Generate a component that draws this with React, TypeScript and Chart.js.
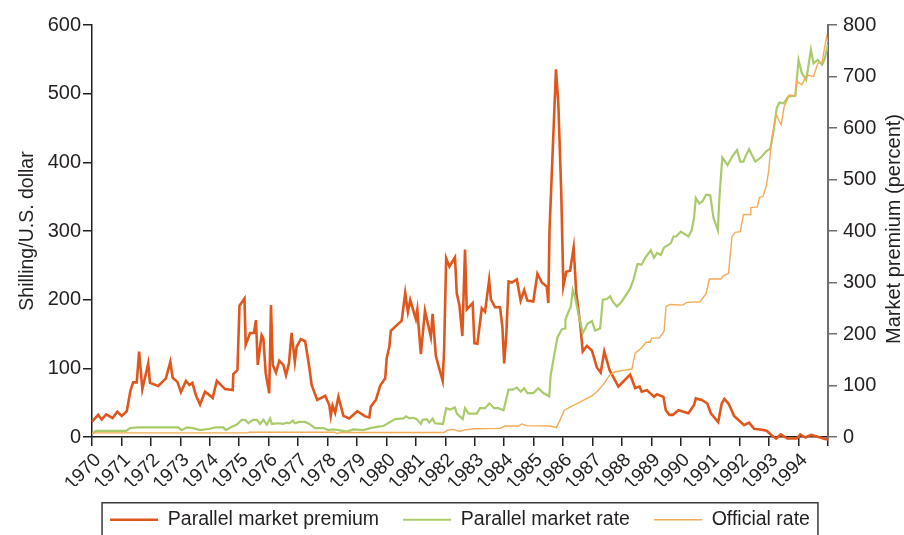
import React, { useEffect, useRef } from "react";
import { Chart, registerables } from "chart.js";

Chart.register(...registerables);

// ---- Data ----
const premiumYears = [
  1970.0, 1970.21, 1970.33, 1970.48, 1970.7, 1970.86, 1971.01, 1971.18, 1971.31, 1971.4,
  1971.52, 1971.6, 1971.71, 1971.91, 1971.97, 1972.25, 1972.51, 1972.66, 1972.74, 1972.9,
  1973.02, 1973.19, 1973.31, 1973.41, 1973.53, 1973.67, 1973.84, 1974.1, 1974.24, 1974.52,
  1974.78, 1974.8, 1974.94, 1975.01, 1975.18, 1975.22, 1975.37, 1975.5, 1975.57, 1975.63,
  1975.76, 1975.82, 1975.9, 1976.02, 1976.08, 1976.14, 1976.25, 1976.36, 1976.5, 1976.59,
  1976.69, 1976.78, 1976.89, 1976.95, 1977.09, 1977.24, 1977.38, 1977.46, 1977.65, 1977.92,
  1978.06, 1978.11, 1978.17, 1978.26, 1978.37, 1978.54, 1978.74, 1979.01, 1979.28, 1979.42,
  1979.47, 1979.65, 1979.79, 1979.96, 1980.01, 1980.1, 1980.15, 1980.52, 1980.64, 1980.73,
  1980.81, 1981.0, 1981.05, 1981.17, 1981.31, 1981.51, 1981.57, 1981.68, 1981.91, 1981.96,
  1982.03, 1982.14, 1982.33, 1982.39, 1982.48, 1982.58, 1982.67, 1982.73, 1982.93, 1982.99,
  1983.09, 1983.24, 1983.35, 1983.49, 1983.55, 1983.69, 1983.86, 1983.94, 1984.0, 1984.07,
  1984.15, 1984.26, 1984.43, 1984.56, 1984.68, 1984.79, 1984.99, 1985.13, 1985.28, 1985.45,
  1985.5, 1985.54, 1985.76, 1985.84, 1985.94, 1986.01, 1986.11, 1986.24, 1986.36, 1986.45,
  1986.58, 1986.67, 1986.81, 1986.98, 1987.15, 1987.28, 1987.4, 1987.58, 1987.88, 1988.28,
  1988.45, 1988.6, 1988.67, 1988.85, 1989.09, 1989.19, 1989.41, 1989.49, 1989.61, 1989.73,
  1989.92, 1990.26, 1990.45, 1990.51, 1990.71, 1990.9, 1991.02, 1991.27, 1991.39, 1991.48,
  1991.62, 1991.81, 1991.96, 1992.15, 1992.32, 1992.49, 1992.75, 1992.92, 1993.09, 1993.24,
  1993.4, 1993.62, 1993.94, 1994.06, 1994.23, 1994.43, 1994.62, 1994.9, 1995.0,
];
const premiumValues = [
  30, 43, 34, 44, 37, 49, 41, 50, 91, 106,
  106, 166, 93, 143, 105, 99, 114, 146, 115, 107,
  87, 109, 101, 105, 81, 63, 88, 76, 109, 93,
  91, 122, 130, 255, 269, 179, 202, 202, 227, 140,
  198, 192, 124, 85, 256, 140, 125, 148, 140, 120,
  143, 202, 146, 175, 190, 186, 136, 101, 72, 80,
  62, 41, 61, 47, 78, 41, 36, 50, 40, 38,
  59, 73, 100, 114, 153, 175, 206, 226, 280, 243,
  266, 229, 247, 161, 245, 194, 239, 157, 109, 169,
  347, 331, 349, 279, 256, 196, 364, 248, 260, 182,
  181, 250, 243, 305, 267, 252, 252, 214, 143, 195,
  302, 300, 306, 265, 285, 265, 263, 317, 300, 292,
  260, 400, 714, 648, 473, 293, 321, 323, 368, 279,
  221, 166, 177, 168, 135, 125, 166, 130, 98, 121,
  95, 98, 88, 91, 78, 83, 78, 52, 43, 43,
  52, 46, 62, 75, 72, 65, 46, 29, 65, 74,
  65, 41, 33, 23, 28, 16, 14, 12, 3, -3,
  5, -3, -3, 5, -1, 4, 1, -4, -5,
];

const parallelYears = [
  1970.0, 1970.14, 1971.16, 1971.29, 1971.57, 1972.93, 1973.05, 1973.22, 1973.44, 1973.67,
  1974.01, 1974.18, 1974.46, 1974.55, 1974.75, 1974.92, 1975.09, 1975.2, 1975.31, 1975.46,
  1975.6, 1975.71, 1975.82, 1975.94, 1976.05, 1976.11, 1976.33, 1976.5, 1976.62, 1976.7,
  1976.82, 1976.89, 1977.04, 1977.24, 1977.38, 1977.58, 1977.86, 1978.03, 1978.2, 1978.37,
  1978.65, 1978.88, 1979.22, 1979.45, 1979.73, 1979.9, 1980.13, 1980.3, 1980.58, 1980.67,
  1980.78, 1980.92, 1981.03, 1981.17, 1981.23, 1981.37, 1981.46, 1981.57, 1981.65, 1981.92,
  1982.03, 1982.16, 1982.33, 1982.39, 1982.59, 1982.67, 1982.79, 1983.07, 1983.18, 1983.35,
  1983.5, 1983.66, 1983.8, 1983.98, 1984.15, 1984.29, 1984.43, 1984.56, 1984.68, 1984.79,
  1984.99, 1985.16, 1985.33, 1985.53, 1985.58, 1985.67, 1985.81, 1985.96, 1986.07, 1986.08,
  1986.22, 1986.26, 1986.33, 1986.41, 1986.52, 1986.67, 1986.83, 1986.98, 1987.09, 1987.26,
  1987.35, 1987.49, 1987.6, 1987.69, 1987.83, 1987.99, 1988.28, 1988.39, 1988.53, 1988.67,
  1988.79, 1988.98, 1989.09, 1989.19, 1989.32, 1989.43, 1989.66, 1989.75, 1989.84, 1990.0,
  1990.26, 1990.37, 1990.45, 1990.51, 1990.63, 1990.75, 1990.86, 1991.0, 1991.11, 1991.26,
  1991.31, 1991.41, 1991.59, 1991.74, 1991.91, 1992.02, 1992.13, 1992.19, 1992.32, 1992.53,
  1992.72, 1992.9, 1993.04, 1993.13, 1993.26, 1993.35, 1993.49, 1993.66, 1993.89, 1994.0,
  1994.11, 1994.26, 1994.42, 1994.51, 1994.65, 1994.8, 1994.89, 1995.0,
];
const parallelValues = [
  5, 9, 9, 13, 14, 14, 10, 14, 13, 10,
  12, 14, 14, 10, 15, 18, 25, 25, 20, 25,
  25, 19, 25, 18, 27, 19, 20, 19, 21, 20,
  24, 20, 22, 22, 19, 13, 13, 10, 11, 10,
  8, 11, 10, 13, 15, 16, 22, 26, 27, 30,
  27, 28, 26, 19, 25, 26, 21, 27, 20, 19,
  42, 40, 43, 34, 26, 42, 34, 34, 42, 42,
  49, 42, 42, 39, 69, 69, 72, 66, 71, 64,
  64, 71, 64, 59, 90, 112, 145, 157, 158, 171,
  186, 189, 214, 203, 180, 151, 165, 169, 155, 158,
  200, 201, 205, 197, 190, 197, 216, 229, 252, 251,
  261, 272, 261, 268, 265, 276, 282, 292, 292, 299,
  292, 301, 319, 348, 340, 344, 353, 352, 319, 301,
  348, 407, 396, 408, 418, 401, 401, 408, 419, 401,
  407, 416, 420, 440, 479, 487, 486, 496, 497, 549,
  530, 520, 564, 544, 549, 542, 551, 572,
];

const officialYears = [
  1970.0, 1975.25, 1975.35, 1978.25, 1978.32, 1978.45, 1981.95, 1982.08, 1982.29, 1982.48,
  1982.62, 1982.96, 1983.86, 1984.03, 1984.48, 1984.6, 1984.75, 1985.56, 1985.77, 1985.9,
  1986.04, 1986.98, 1987.15, 1987.4, 1987.58, 1987.77, 1988.05, 1988.34, 1988.45, 1988.67,
  1988.82, 1988.96, 1989.01, 1989.27, 1989.43, 1989.5, 1989.64, 1990.07, 1990.2, 1990.66,
  1990.86, 1990.97, 1991.36, 1991.45, 1991.62, 1991.74, 1991.85, 1992.02, 1992.13, 1992.36,
  1992.38, 1992.6, 1992.67, 1992.79, 1992.9, 1992.98, 1993.09, 1993.24, 1993.32, 1993.41,
  1993.51, 1993.69, 1993.89, 1993.94, 1994.11, 1994.28, 1994.51, 1994.65, 1994.8, 1994.95,
  1995.0,
];
const officialValues = [
  6, 6, 7, 7, 5, 6.5, 6.5, 10, 11, 8,
  10, 12, 12.6, 16, 16, 19, 16.5, 16, 13.6, 25,
  39, 60, 66, 78, 90, 95, 97, 99, 122, 130,
  138, 138, 144, 144, 154, 190, 193, 192, 196, 197,
  209, 230, 230, 235, 238, 292, 298, 299, 324, 324,
  334, 335, 349, 350, 365, 386, 435, 470, 462, 455,
  481, 498, 497, 518, 513, 527, 525, 544, 546, 583,
  574,
];

const seriesLabels = ["Parallel market premium", "Parallel market rate", "Official rate"];
const leftAxisTitle = "Shilling/U.S. dollar";
const rightAxisTitle = "Market premium (percent)";
const xFirstYear = 1970;
const xLastYear = 1995;
const leftTicksMax = 600;
const rightTicksMax = 800;

// ---- Styles ----
const FONT = '"Liberation Sans", Arial, Helvetica, sans-serif';
const TEXT = "#231f20";
const AXIS = "#231f20";
const RAXIS = "#6d6e71";
const PREMIUM_COLOR = "#e0571d";
const PARALLEL_COLOR = "#aacb6b";
const OFFICIAL_COLOR = "#f5aa55";

const toPoints = (xs: number[], ys: number[]) => xs.map((x, i) => ({ x, y: ys[i] }));

const decorPlugin = {
  id: "decor",
  afterDraw(chart: any) {
    const ctx = chart.ctx as CanvasRenderingContext2D;
    const area = chart.chartArea;
    const midY = (area.top + area.bottom) / 2;
    ctx.save();
    ctx.fillStyle = TEXT;
    ctx.textAlign = "center";
    ctx.textBaseline = "alphabetic";
    ctx.font = `19.5px ${FONT}`;
    ctx.translate(33, midY);
    ctx.rotate(-Math.PI / 2);
    ctx.fillText(leftAxisTitle, 0, 0);
    ctx.restore();

    ctx.save();
    ctx.fillStyle = TEXT;
    ctx.textAlign = "center";
    ctx.textBaseline = "alphabetic";
    ctx.font = `20px ${FONT}`;
    ctx.translate(899.5, midY - 2);
    ctx.rotate(-Math.PI / 2);
    ctx.fillText(rightAxisTitle, 0, 0);
    ctx.restore();

    const lg = chart.legend;
    if (lg && lg.legendHitBoxes && lg.legendHitBoxes.length) {
      const boxes = lg.legendHitBoxes;
      const first = boxes[0];
      const last = boxes[boxes.length - 1];
      const left = first.left - 8;
      const right = last.left + last.width + 8;
      const top = first.top + first.height / 2 - 17;
      ctx.save();
      ctx.strokeStyle = "#3a3a3a";
      ctx.lineWidth = 1.5;
      ctx.strokeRect(left, top, right - left, 80);
      ctx.restore();
    }
  },
};

export default function App() {
  const canvasRef = useRef<HTMLCanvasElement | null>(null);

  useEffect(() => {
    if (!canvasRef.current) return;
    const chart = new Chart(canvasRef.current, {
      type: "line",
      data: {
        datasets: [
          {
            label: seriesLabels[0],
            data: toPoints(premiumYears, premiumValues),
            yAxisID: "y1",
            borderColor: PREMIUM_COLOR,
            backgroundColor: PREMIUM_COLOR,
            borderWidth: 2.6,
            pointRadius: 0,
            tension: 0,
            clip: false as any,
            order: 3,
          },
          {
            label: seriesLabels[1],
            data: toPoints(parallelYears, parallelValues),
            yAxisID: "y",
            borderColor: PARALLEL_COLOR,
            backgroundColor: PARALLEL_COLOR,
            borderWidth: 2.2,
            pointRadius: 0,
            tension: 0,
            order: 2,
          },
          {
            label: seriesLabels[2],
            data: toPoints(officialYears, officialValues),
            yAxisID: "y",
            borderColor: OFFICIAL_COLOR,
            backgroundColor: OFFICIAL_COLOR,
            borderWidth: 1.4,
            pointRadius: 0,
            tension: 0,
            order: 1,
          },
        ],
      },
      options: {
        responsive: false,
        animation: false,
        devicePixelRatio: 1,
        events: [],
        layout: { padding: { left: 16, right: 0, top: 25, bottom: -4.5 } },
        scales: {
          x: {
            type: "linear",
            min: xFirstYear,
            max: xLastYear,
            afterFit: (s: any) => {
              s.height = 49;
            },
            ticks: {
              stepSize: 1,
              maxTicksLimit: 40,
              autoSkip: false,
              minRotation: 45,
              maxRotation: 45,
              labelOffset: 6,
              padding: 3,
              color: TEXT,
              font: { family: FONT, size: 19 },
              callback: (v: any) => (Number(v) < xLastYear ? String(v) : ""),
            },
            grid: {
              drawOnChartArea: false,
              drawTicks: true,
              tickLength: 9,
              color: AXIS,
              lineWidth: 1.5,
            },
            border: { display: true, color: AXIS, width: 1.5 },
          },
          y: {
            position: "left",
            min: 0,
            max: leftTicksMax,
            afterFit: (s: any) => {
              s.width = 76;
            },
            ticks: {
              stepSize: 100,
              padding: 2,
              color: TEXT,
              font: { family: FONT, size: 20 },
            },
            grid: {
              drawOnChartArea: false,
              drawTicks: true,
              tickLength: 9,
              color: AXIS,
              lineWidth: 1.5,
            },
            border: { display: true, color: AXIS, width: 1.5 },
          },
          y1: {
            position: "right",
            min: 0,
            max: rightTicksMax,
            afterFit: (s: any) => {
              s.width = 76;
            },
            ticks: {
              stepSize: 100,
              padding: 6,
              color: TEXT,
              font: { family: FONT, size: 20 },
            },
            grid: {
              drawOnChartArea: false,
              drawTicks: true,
              tickLength: 9,
              color: RAXIS,
              lineWidth: 1.5,
            },
            border: { display: true, color: RAXIS, width: 2 },
          },
        },
        plugins: {
          tooltip: { enabled: false },
          title: { display: false },
          legend: {
            display: true,
            position: "bottom",
            fullSize: true,
            labels: {
              usePointStyle: true,
              pointStyle: "line",
              pointStyleWidth: 48,
              padding: 24,
              color: TEXT,
              font: { family: FONT, size: 19.5 },
              sort: (a: any, b: any) => a.datasetIndex - b.datasetIndex,
            },
          },
        },
      } as any,
      plugins: [decorPlugin],
    });
    return () => chart.destroy();
  }, []);

  return (
    <div style={{ position: "absolute", left: 0, top: 0, width: 904, height: 535, background: "#fff" }}>
      <canvas ref={canvasRef} width={904} height={535} style={{ display: "block" }} />
    </div>
  );
}
